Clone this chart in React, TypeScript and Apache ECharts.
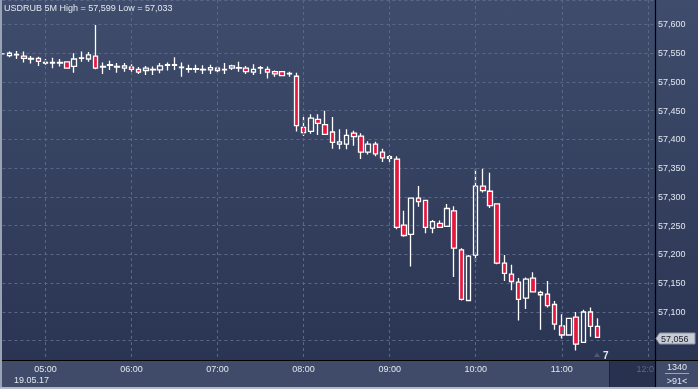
import React, { useEffect, useRef } from "react";
import * as echarts from "echarts";

// Candles: [open, close, low, high], 5-minute bars starting 04:30
const CANDLES: number[][] = [
  [57549, 57549, 57548, 57550],
  [57546, 57550, 57543, 57553],
  [57547, 57548, 57540, 57554],
  [57545, 57541, 57534, 57553],
  [57540, 57541, 57532, 57545],
  [57541, 57536, 57528, 57544],
  [57533, 57534, 57530, 57540],
  [57533, 57534, 57524, 57542],
  [57533, 57534, 57527, 57540],
  [57535, 57524, 57523, 57535],
  [57527, 57540, 57516, 57550],
  [57541, 57542, 57535, 57553],
  [57540, 57547, 57535, 57552],
  [57545, 57524, 57522, 57599],
  [57526, 57527, 57514, 57534],
  [57529, 57530, 57521, 57537],
  [57526, 57527, 57516, 57533],
  [57524, 57528, 57518, 57533],
  [57526, 57522, 57518, 57531],
  [57522, 57517, 57514, 57526],
  [57520, 57524, 57512, 57528],
  [57521, 57522, 57512, 57527],
  [57521, 57528, 57515, 57533],
  [57529, 57530, 57520, 57534],
  [57529, 57530, 57521, 57543],
  [57525, 57526, 57509, 57534],
  [57522, 57523, 57516, 57530],
  [57522, 57523, 57516, 57530],
  [57521, 57522, 57514, 57529],
  [57521, 57525, 57514, 57530],
  [57524, 57520, 57516, 57528],
  [57521, 57522, 57514, 57533],
  [57524, 57528, 57521, 57530],
  [57524, 57525, 57518, 57535],
  [57524, 57518, 57514, 57528],
  [57517, 57522, 57512, 57531],
  [57524, 57525, 57514, 57528],
  [57522, 57517, 57506, 57527],
  [57518, 57514, 57509, 57520],
  [57518, 57511, 57510, 57518],
  [57514, 57515, 57509, 57518],
  [57510, 57424, 57414, 57516],
  [57421, 57412, 57406, 57439],
  [57414, 57437, 57410, 57444],
  [57435, 57428, 57408, 57444],
  [57426, 57409, 57408, 57450],
  [57413, 57395, 57384, 57439],
  [57392, 57396, 57383, 57418],
  [57392, 57407, 57383, 57418],
  [57411, 57405, 57389, 57415],
  [57406, 57378, 57366, 57411],
  [57378, 57392, 57374, 57397],
  [57392, 57375, 57371, 57396],
  [57378, 57368, 57361, 57384],
  [57367, 57370, 57361, 57373],
  [57366, 57247, 57244, 57371],
  [57251, 57233, 57231, 57276],
  [57235, 57298, 57179, 57298],
  [57298, 57292, 57283, 57319],
  [57294, 57247, 57237, 57294],
  [57246, 57257, 57237, 57260],
  [57254, 57247, 57246, 57259],
  [57249, 57280, 57249, 57288],
  [57276, 57211, 57161, 57284],
  [57208, 57122, 57120, 57211],
  [57120, 57197, 57120, 57199],
  [57199, 57319, 57188, 57349],
  [57319, 57311, 57308, 57349],
  [57310, 57285, 57281, 57342],
  [57288, 57185, 57183, 57288],
  [57185, 57167, 57154, 57199],
  [57166, 57153, 57138, 57182],
  [57152, 57122, 57085, 57159],
  [57124, 57157, 57105, 57160],
  [57159, 57135, 57135, 57169],
  [57134, 57130, 57069, 57137],
  [57131, 57111, 57108, 57154],
  [57113, 57079, 57069, 57119],
  [57076, 57060, 57054, 57096],
  [57060, 57089, 57060, 57089],
  [57091, 57044, 57033, 57100],
  [57047, 57100, 57047, 57104],
  [57100, 57075, 57057, 57108],
  [57075, 57056, 57056, 57089],
];

const HOUR_LABELS = ["05:00", "06:00", "07:00", "08:00", "09:00", "10:00", "11:00", "12:00"];
const START_MINUTES = 4 * 60 + 30; // first bar 04:30
const SLOT_COUNT = 92; // bars plus empty future slots
const TITLE = "USDRUB 5M High = 57,599 Low = 57,033";
const DATE_LABEL = "19.05.17";
const LAST_PRICE = "57,056";
const HIDDEN_PRICE_LABEL = 57050; // covered by the last-price tag
const BARS_TEXT = "1340";
const SHIFT_TEXT = ">91<";
const COUNT_TEXT = "7";

const pad = (n: number) => (n < 10 ? "0" + n : "" + n);
const CATEGORIES: string[] = [];
for (let i = 0; i < SLOT_COUNT; i++) {
  const m = START_MINUTES + i * 5;
  CATEGORIES.push(pad(Math.floor(m / 60)) + ":" + pad(m % 60));
}

const FONT = "'Liberation Sans', Arial, sans-serif";
const TXT = "#e1e7f1";

export default function App() {
  const ref = useRef<HTMLDivElement>(null);
  useEffect(() => {
    if (!ref.current) return;
    const chart = echarts.init(ref.current, null, { renderer: "svg" });
    const fmtPrice = (v: number) => {
      const r = Math.round(v / 50) * 50;
      if (Math.abs(v - r) > 0.01) return "";
      if (r === HIDDEN_PRICE_LABEL) return "";
      const s = String(r);
      return s.slice(0, 2) + "," + s.slice(2);
    };
    chart.setOption({
      animation: false,
      backgroundColor: "transparent",
      textStyle: { fontFamily: FONT },
      grid: { left: 2.4, right: 43, top: 0, bottom: 29, containLabel: false },
      xAxis: {
        type: "category",
        data: CATEGORIES,
        boundaryGap: false,
        z: 3,
        axisLine: { show: false },
        axisTick: { show: false },
        axisLabel: {
          color: TXT,
          fontSize: 9,
          fontFamily: FONT,
          margin: 4,
          interval: (idx: number, val: string) => HOUR_LABELS.indexOf(val) >= 0 && val !== "12:00",
          formatter: (val: string) => (HOUR_LABELS.indexOf(val) >= 0 && val !== "12:00" ? val : ""),
        },
        splitLine: {
          show: true,
          interval: (idx: number, val: string) => HOUR_LABELS.indexOf(val) >= 0,
          lineStyle: { color: "#5b6786", type: [3, 3], width: 1 },
        },
      },
      yAxis: {
        type: "value",
        position: "right",
        min: 57016.5,
        max: 57642.6,
        splitNumber: 12,
        scale: true,
        axisLine: { show: false },
        axisTick: { show: false },
        axisLabel: {
          color: TXT,
          fontSize: 9,
          fontFamily: FONT,
          margin: 3,
          showMinLabel: false,
          showMaxLabel: false,
          formatter: fmtPrice,
        },
        splitLine: {
          show: true,
          lineStyle: { color: "#5b6786", type: [3, 3], width: 1 },
        },
      },
      series: [
        {
          type: "candlestick",
          data: CANDLES,
          barWidth: 5,
          itemStyle: {
            color: "rgba(0,0,0,0)",
            color0: "#e5173e",
            borderColor: "#ffffff",
            borderColor0: "#ffffff",
            borderWidth: 1.3,
          },
        },
      ],
      graphic: [
        {
          type: "rect",
          z: -100,
          silent: true,
          shape: { x: 0, y: 0, width: 698, height: 360 },
          style: {
            fill: new echarts.graphic.LinearGradient(0, 0, 0, 1, [
              { offset: 0, color: "#3f4c6b" },
              { offset: 1, color: "#2a3553" },
            ]),
          },
        },
        {
          type: "rect",
          z: -100,
          silent: true,
          shape: { x: 0, y: 360, width: 698, height: 29 },
          style: { fill: "#3f4b69" },
        },
        {
          type: "rect",
          z: -99,
          silent: true,
          shape: { x: 610, y: 361, width: 45, height: 26 },
          style: { fill: "#28324f" },
        },
        {
          type: "line",
          z: 5,
          silent: true,
          shape: { x1: 609.5, y1: 361, x2: 609.5, y2: 387 },
          style: { stroke: "#1c2337", lineWidth: 1 },
        },
        {
          type: "text",
          z: 5,
          silent: true,
          style: {
            x: 654,
            y: 368.5,
            text: "12:0",
            align: "right",
            verticalAlign: "middle",
            fill: "#5c6886",
            font: "9px " + FONT,
          },
        },
        {
          type: "line",
          z: 10,
          silent: true,
          shape: { x1: 655.5, y1: 0, x2: 655.5, y2: 388 },
          style: { stroke: "#000000", lineWidth: 1.2 },
        },
        {
          type: "line",
          z: 10,
          silent: true,
          shape: { x1: 0, y1: 360.5, x2: 698, y2: 360.5 },
          style: { stroke: "#000000", lineWidth: 1.2 },
        },
        {
          type: "rect",
          z: 10,
          silent: true,
          shape: { x: 0, y: 0, width: 2, height: 389 },
          style: { fill: "#9aa3b4" },
        },
        {
          type: "rect",
          z: 10,
          silent: true,
          shape: { x: 0, y: 387, width: 698, height: 2 },
          style: { fill: "#b3bac6" },
        },
        {
          type: "text",
          z: 10,
          silent: true,
          style: {
            x: 4,
            y: 8,
            text: TITLE,
            verticalAlign: "middle",
            fill: TXT,
            font: "9px " + FONT,
          },
        },
        {
          type: "text",
          z: 10,
          silent: true,
          style: {
            x: 14,
            y: 380,
            text: DATE_LABEL,
            verticalAlign: "middle",
            fill: TXT,
            font: "9px " + FONT,
          },
        },
        {
          type: "text",
          z: 10,
          silent: true,
          style: {
            x: 677,
            y: 367,
            text: BARS_TEXT,
            align: "center",
            verticalAlign: "middle",
            fill: TXT,
            font: "9px " + FONT,
          },
        },
        {
          type: "line",
          z: 10,
          silent: true,
          shape: { x1: 665, y1: 373.5, x2: 689, y2: 373.5 },
          style: { stroke: "#9ca4b5", lineWidth: 1 },
        },
        {
          type: "text",
          z: 10,
          silent: true,
          style: {
            x: 677,
            y: 380.5,
            text: SHIFT_TEXT,
            align: "center",
            verticalAlign: "middle",
            fill: TXT,
            font: "9px " + FONT,
          },
        },
        {
          type: "polygon",
          z: 10,
          silent: true,
          shape: {
            points: [
              [656, 338.5],
              [659.5, 333],
              [695, 333],
              [695, 344],
              [659.5, 344],
            ],
          },
          style: { fill: "#c8ccd4", stroke: "#8a92a3", lineWidth: 1 },
        },
        {
          type: "text",
          z: 11,
          silent: true,
          style: {
            x: 661,
            y: 338.8,
            text: LAST_PRICE,
            verticalAlign: "middle",
            fill: "#1a1f2c",
            font: "9px " + FONT,
          },
        },
        {
          type: "polygon",
          z: 10,
          silent: true,
          shape: {
            points: [
              [594, 357],
              [597, 352.5],
              [600, 357],
            ],
          },
          style: { fill: "#4e5974" },
        },
        {
          type: "text",
          z: 10,
          silent: true,
          style: {
            x: 603,
            y: 355.5,
            text: COUNT_TEXT,
            verticalAlign: "middle",
            fill: TXT,
            font: "bold 10px " + FONT,
          },
        },
      ],
    });
    return () => chart.dispose();
  }, []);
  return (
    <div
      ref={ref}
      style={{ position: "fixed", left: 0, top: 0, width: 698, height: 389 }}
    />
  );
}
